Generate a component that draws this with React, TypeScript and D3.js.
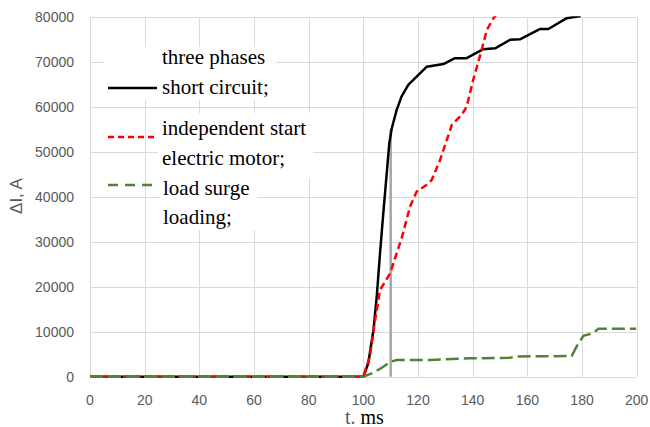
import React from 'react';
import * as d3 from 'd3';

// three phases short circuit (black)
const shortT = [0, 100, 101.8, 103.7, 104.9, 106.1, 107.3, 109.5, 110.4, 112.2, 114, 116.5, 119.5, 123.2, 129.3, 133.5, 137.8, 143.9, 148.2, 153.7, 157.3, 164.7, 167.7, 174.4, 179.5];
const shortI = [0, 0, 3000, 10400, 17800, 27500, 36400, 52000, 55300, 59400, 62400, 65000, 66800, 69000, 69600, 70900, 70900, 72900, 73100, 75000, 75100, 77400, 77400, 79800, 80300];

// independent start electric motor (red dashed)
const motorT = [0, 100, 102.4, 104.3, 106.1, 109.8, 112.2, 114, 117.1, 119.5, 123.2, 125, 128.1, 132.4, 136, 137.8, 140.2, 143.3, 145.2, 147.6, 148.6];
const motorI = [0, 0, 4500, 12600, 19300, 23000, 27500, 30800, 37900, 41200, 42700, 43800, 48300, 56100, 58300, 60100, 66100, 72800, 77200, 79800, 80500];

// load surge loading (green dashed)
const surgeT = [0, 100, 103.7, 107.3, 109.8, 112.2, 124.4, 139, 153.7, 156.1, 176.2, 178, 180.5, 184.2, 186, 199.8];
const surgeI = [0, 0, 900, 2200, 3300, 3700, 3700, 4100, 4200, 4500, 4600, 6700, 9100, 9700, 10700, 10700];

const markerT = 110;
const markerI = 55000;

const xTicks = [0, 20, 40, 60, 80, 100, 120, 140, 160, 180, 200];
const yTicks = [0, 10000, 20000, 30000, 40000, 50000, 60000, 70000, 80000];

const legendLines = [
  ['three phases', 'short circuit;'],
  ['independent start', 'electric motor;'],
  ['load surge', 'loading;'],
];

const W = 650;
const H = 427;
const SERIF = '"Liberation Serif", "Times New Roman", serif';
const SANS = '"Liberation Sans", Arial, sans-serif';

const x = d3.scaleLinear().domain([0, 200]).range([90, 636.7]);
const y = d3.scaleLinear().domain([0, 80000]).range([376.7, 17.3]);
const line = d3.line<[number, number]>().x(d => x(d[0])).y(d => y(d[1]));
const zip = (a: number[], b: number[]) => a.map((v, i) => [v, b[i]] as [number, number]);

// white boxes behind the legend text
const boxes = [
  [104, 47, 172, 53],
  [158, 113, 155, 65],
  [160, 178, 97, 52],
];
const symY = [88, 137, 185];
const symStyle = [
  { c: '#000', dash: undefined },
  { c: '#ff0000', dash: '6 4' },
  { c: '#538135', dash: '10 7' },
];
const baseY = [[64, 94], [135, 165], [195, 224]];

export default function App() {
  return (
    <svg width={W} height={H} style={{ position: 'absolute', left: 0, top: 0, background: '#fff' }}>
      <defs>
        <clipPath id="plot">
          <rect x={x(0) - 2} y={y(80000) - 1} width={x(200) - x(0) + 4} height={y(0) - y(80000) + 4} />
        </clipPath>
      </defs>

      <g stroke="#d9d9d9" strokeWidth={1}>
        {xTicks.map(t => (
          <line key={'gx' + t} x1={Math.round(x(t)) + 0.5} x2={Math.round(x(t)) + 0.5} y1={y(80000)} y2={y(0)} />
        ))}
        {yTicks.map(t => (
          <line key={'gy' + t} x1={x(0)} x2={x(200)} y1={Math.round(y(t)) + 0.5} y2={Math.round(y(t)) + 0.5} />
        ))}
      </g>

      {yTicks.map(t => (
        <text key={'ty' + t} x={74} y={y(t) + 5} textAnchor="end" fontSize={14} fill="#595959" style={{ fontFamily: SANS }}>
          {t}
        </text>
      ))}
      {xTicks.map(t => (
        <text key={'tx' + t} x={x(t)} y={405} textAnchor="middle" fontSize={14} fill="#595959" style={{ fontFamily: SANS }}>
          {t}
        </text>
      ))}

      <text transform="translate(22,196) rotate(-90)" textAnchor="middle" fontSize={17} fill="#595959" style={{ fontFamily: SANS }}>
        ΔI, A
      </text>
      <text x={345} y={424} fontSize={20} style={{ fontFamily: SERIF }}>
        <tspan fill="#595959">t. </tspan>
        <tspan fill="#000">ms</tspan>
      </text>

      <g clipPath="url(#plot)">
        <line x1={x(markerT)} x2={x(markerT)} y1={y(0)} y2={y(markerI)} stroke="#a6a6a6" strokeWidth={2.5} />
        <path d={line(zip(shortT, shortI)) || ''} fill="none" stroke="#000" strokeWidth={2.5} strokeLinejoin="round" />
        <path d={line(zip(motorT, motorI)) || ''} fill="none" stroke="#ff0000" strokeWidth={2.5} strokeDasharray="7 4" />
        <path d={line(zip(surgeT, surgeI)) || ''} fill="none" stroke="#538135" strokeWidth={2.5} strokeDasharray="13 5" />
      </g>

      {boxes.map((b, i) => (
        <rect key={'b' + i} x={b[0]} y={b[1]} width={b[2]} height={b[3]} fill="#fff" />
      ))}
      {symY.map((sy, i) => (
        <line key={'s' + i} x1={108} x2={157} y1={sy} y2={sy} stroke={symStyle[i].c} strokeWidth={2.5} strokeDasharray={symStyle[i].dash} />
      ))}
      {legendLines.map((pair, i) =>
        pair.map((txt, j) => (
          <text key={txt} x={i === 2 ? 163 : 162} y={baseY[i][j]} fontSize={21} fill="#000" style={{ fontFamily: SERIF }}>
            {txt}
          </text>
        ))
      )}
    </svg>
  );
}
